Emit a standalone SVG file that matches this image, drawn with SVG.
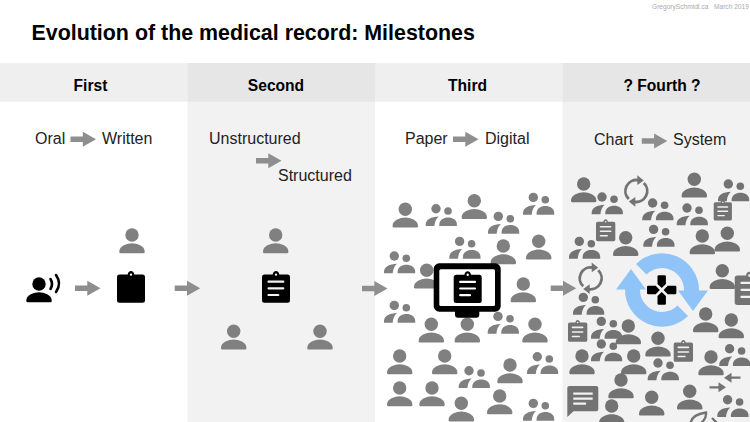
<svg xmlns="http://www.w3.org/2000/svg" xmlns:xlink="http://www.w3.org/1999/xlink" width="750" height="422" viewBox="0 0 750 422">
<style>
text{font-family:"Liberation Sans",Arial,sans-serif;fill:#111}
.title{font-size:21.4px;font-weight:700;fill:#000}
.head{font-size:15.6px;font-weight:700;text-anchor:middle;fill:#000}
.lbl{font-size:16px;fill:#222}
.credit{font-size:6.6px;fill:#aaa}
.g3{fill:#808080}
.g4{fill:#737373}
.blk{fill:#000}
.arrow{fill:#8e8e8e}
.ln{fill:none;stroke-width:2.2;stroke-linecap:round}
.sync{fill:none;stroke:#737373;stroke-width:2.8}
</style>
<defs>
<g id="p"><circle cx="0" cy="0" r="6.7"/><path d="M-12.7 16.5C-12.7 11-5 8.3 0 8.3C5 8.3 12.7 11 12.7 16.5V17Q12.7 18.3 11.4 18.3H-11.4Q-12.7 18.3-12.7 17Z"/></g>
<g id="pp"><circle cx="10.3" cy="4.7" r="4.7"/><circle cx="22.3" cy="7" r="3.8"/><path d="M0 22V20C.5 15.5 5 12.6 13 12.4C10.5 14.5 9 18 8.7 22Z"/><path d="M13.6 22V20.5C13.6 15.5 18 13.4 22.4 13.4C27 13.4 31.2 15.5 31.2 20.5V22Z"/></g>
<path id="clip" d="M2.5 3.5H10.7C11 1.5 12.3 0 14 0C15.7 0 17 1.5 17.3 3.5H25.5Q28 3.5 28 6V29.2Q28 31.7 25.5 31.7H2.5Q0 31.7 0 29.2V6Q0 3.5 2.5 3.5ZM14 2.4A1.2 1.2 0 1 0 14 4.8A1.2 1.2 0 1 0 14 2.4Z" fill-rule="evenodd"/>
<path id="clipl" d="M6.5 10.7H21.3M6.5 17.3H21.3M6.5 24H16.3"/>
<g id="cg"><use href="#clip" class="g4"/><use href="#clipl" class="ln" stroke="#f2f2f2"/></g>
<path id="arr" d="M0-2.7H12.3V-7.5L25.5 0L12.3 7.5V2.7H0Z"/>
<g id="sy"><g id="syh"><path class="sync" d="M-7.5 8A11 11 0 0 1 2 -10.8"/><path d="M1-15.8L7.5-10.6L1-6Z" class="g4"/></g><use href="#syh" transform="rotate(180)"/></g>
</defs>

<g id="columns">
<rect x="187.5" y="63" width="187.5" height="359" fill="#f2f2f2"/>
<rect x="562.5" y="63" width="187.5" height="359" fill="#f2f2f2"/>
<rect x="0" y="63" width="187.5" height="38.7" fill="#efefef"/>
<rect x="187.5" y="63" width="187.5" height="38.7" fill="#e6e6e6"/>
<rect x="375" y="63" width="187.5" height="38.7" fill="#efefef"/>
<rect x="562.5" y="63" width="187.5" height="38.7" fill="#e6e6e6"/>
</g>

<g id="titles">
<text class="credit" x="652" y="9">GregorySchmidt.ca</text>
<text class="credit" x="714" y="9">March 2019</text>
<text class="title" x="31.5" y="39.5">Evolution of the medical record: Milestones</text>
<text class="head" x="90.5" y="91">First</text>
<text class="head" x="276" y="91">Second</text>
<text class="head" x="467.5" y="91">Third</text>
<text class="head" x="662" y="91">? Fourth ?</text>
<text class="lbl" x="35" y="144">Oral</text>
<text class="lbl" x="102" y="144">Written</text>
<text class="lbl" x="209" y="144">Unstructured</text>
<text class="lbl" x="278" y="181">Structured</text>
<text class="lbl" x="405" y="144">Paper</text>
<text class="lbl" x="485" y="144">Digital</text>
<text class="lbl" x="594" y="145">Chart</text>
<text class="lbl" x="673" y="145">System</text>
</g>

<g id="connectors" class="arrow">
<use href="#arr" x="70.5" y="139.3"/>
<use href="#arr" x="256" y="160.7"/>
<use href="#arr" x="453" y="139.3"/>
<use href="#arr" x="641.8" y="141"/>
<use href="#arr" x="75" y="288.3"/>
<use href="#arr" x="174.7" y="288.3"/>
<use href="#arr" x="362" y="288.5"/>
<use href="#arr" x="550.7" y="288.3"/>
</g>

<g id="first-stage">
<g id="first-speaker" class="blk"><use href="#p" x="39" y="284"/><path d="M50.5 279Q53.5 284 50.5 289M56 275Q62 283.5 56 292" fill="none" stroke="#000" stroke-width="2.6" stroke-linecap="round"/></g>
<use id="first-person" href="#p" class="g3" x="132" y="235"/>
<use id="first-clipboard" href="#clip" class="blk" x="117" y="271"/>
</g>

<g id="second-stage">
<g class="g3"><use id="second-p1" href="#p" x="275.7" y="235"/><use id="second-p2" href="#p" x="233.7" y="331.3"/><use id="second-p3" href="#p" x="320" y="331.3"/></g>
<g id="second-clipboard" transform="translate(262 271)"><use href="#clip" class="blk"/><use href="#clipl" class="ln" stroke="#f2f2f2"/></g>
</g>

<g id="third-crowd" class="g3">
<use href="#p" x="405.3" y="209.3"/><use href="#p" x="474.3" y="200.7"/><use href="#p" x="503.3" y="246"/><use href="#p" x="538.7" y="241.3"/><use href="#p" x="426.7" y="270.3"/><use href="#p" x="523.3" y="284"/><use href="#p" x="431.3" y="324.3"/><use href="#p" x="467.3" y="324.3"/><use href="#p" x="535" y="324.3"/><use href="#p" x="399.7" y="356"/><use href="#p" x="444.7" y="356"/><use href="#p" x="510" y="365"/><use href="#p" x="399.7" y="388"/><use href="#p" x="432" y="388"/><use href="#p" x="461.3" y="403.3"/><use href="#p" x="499.7" y="396"/>
<use href="#pp" x="425.7" y="204"/><use href="#pp" x="488" y="211.7"/><use href="#pp" x="523" y="192.7"/><use href="#pp" x="449.3" y="236.7"/><use href="#pp" x="384" y="251.3"/><use href="#pp" x="384" y="300.7"/><use href="#pp" x="487.7" y="311.7"/><use href="#pp" x="458.7" y="366"/><use href="#pp" x="527" y="352"/><use href="#pp" x="523" y="398.7"/>
</g>
<g id="third-monitor">
<rect x="455" y="308" width="24.3" height="9.7" rx="3" fill="#000"/>
<rect x="433.7" y="263.3" width="67" height="48.4" rx="5.5" fill="#000"/>
<rect x="439.3" y="269.3" width="55.7" height="36.7" rx="1.5" fill="#fff"/>
<use href="#clip" class="blk" x="453.7" y="271.2"/>
<use href="#clipl" class="ln" stroke="#fff" x="453.7" y="271.2"/>
</g>

<g id="fourth-crowd" class="g4">
<use href="#p" x="583.7" y="184"/><use href="#p" x="694.3" y="179.3"/><use href="#p" x="625.7" y="237.7"/><use href="#p" x="702.3" y="236"/><use href="#p" x="727.3" y="233.3"/><use href="#p" x="722.3" y="270.7"/><use href="#p" x="705.7" y="314"/><use href="#p" x="731.3" y="320"/><use href="#p" x="628.3" y="326"/><use href="#p" x="658" y="338.3"/><use href="#p" x="582" y="356"/><use href="#p" x="633.7" y="356"/><use href="#p" x="711" y="357"/><use href="#p" x="621" y="380"/><use href="#p" x="651.7" y="397.3"/><use href="#p" x="689.7" y="391.3"/><use href="#p" x="611.7" y="406"/>
<use href="#pp" x="591.7" y="192.3"/><use href="#pp" x="642.3" y="198.3"/><use href="#pp" x="718" y="179.3"/><use href="#pp" x="676.7" y="203.3"/><use href="#pp" x="643.3" y="224.7"/><use href="#pp" x="569" y="236.7"/><use href="#pp" x="573" y="292.7"/><use href="#pp" x="591" y="316.7"/><use href="#pp" x="591" y="339.3"/><use href="#pp" x="719.3" y="344"/><use href="#pp" x="647.7" y="358.3"/><use href="#pp" x="717.3" y="395"/>
<use href="#cg" transform="translate(596 219.3) scale(.69)"/>
<use href="#cg" transform="translate(713.7 200) scale(.65)"/>
<use href="#cg" transform="translate(568 320) scale(.69)"/>
<use href="#cg" transform="translate(673.7 340) scale(.69)"/>
<use href="#cg" transform="translate(734.7 271.7) scale(1.05)"/>
<use href="#sy" x="636.3" y="191"/>
<use href="#sy" x="590.7" y="278.3"/>
<g id="fourth-chat"><path d="M569.3 386H596.3Q598.3 386 598.3 388V409.3Q598.3 411.3 596.3 411.3H573.5L567.3 417V388Q567.3 386 569.3 386Z"/><path d="M573.3 393.7H592.7M573.3 398.7H592.7M573.3 403.7H586" fill="none" stroke="#f2f2f2" stroke-width="2.2"/></g>
<g id="fourth-swap"><path d="M730 377.7H740.5M709.5 387.3H720" fill="none" stroke="#737373" stroke-width="2.2"/><path d="M724 377.7L731.5 372.7V382.7ZM726 387.3L718.5 382.3V392.3Z"/></g>
<path id="fourth-leaf" d="M690.5 424C691 416 699 413.5 706 412.5C706.5 417 704 421 700 424M712 418L717 423" fill="none" stroke="#737373" stroke-width="2.4"/>
</g>

<g id="fourth-system">
<g id="sync-blue" fill="#90c4f8">
<g id="sync-half"><path d="M636 264A37 37 0 0 1 699 291H684A22 22 0 0 0 646.5 274.5Z"/><path d="M678 290.5H708L693 311Z"/></g>
<use href="#sync-half" transform="rotate(180 662 290)"/>
</g>
<g id="dpad" transform="translate(661.7 290)">
<path id="lobe" d="M-2.9-14.7H2.9Q4.2-14.7 4.2-13.4V-6L0-1.9L-4.2-6V-13.4Q-4.2-14.7-2.9-14.7Z" fill="#000"/>
<use href="#lobe" transform="rotate(90)"/><use href="#lobe" transform="rotate(180)"/><use href="#lobe" transform="rotate(270)"/>
</g>
</g>
</svg>
